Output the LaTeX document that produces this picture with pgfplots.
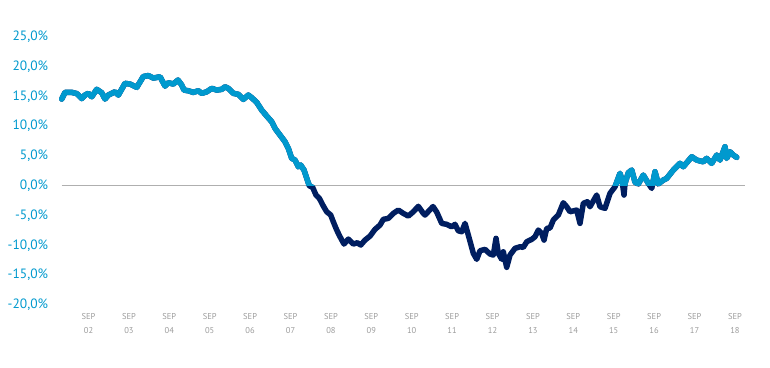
\documentclass[border=0pt]{standalone}
\usepackage{fontspec}
\setmainfont{PT Sans}
\usepackage{pgfplots}
\usepackage{pgfplotstable}
\pgfplotsset{compat=1.18}
\definecolor{lb}{RGB}{0,153,206}
\definecolor{nv}{RGB}{0,30,96}
\definecolor{tg}{RGB}{155,155,155}
\definecolor{zl}{RGB}{175,175,175}
\pgfplotstableread{
x y
2001.337 14.54
2001.418 15.66
2001.584 15.66
2001.708 15.46
2001.832 14.62
2001.913 15.21
2001.995 15.50
2002.079 14.93
2002.203 16.17
2002.327 15.60
2002.408 14.54
2002.490 15.21
2002.656 15.76
2002.738 15.21
2002.903 17.17
2003.027 17.06
2003.193 16.50
2003.356 18.31
2003.480 18.48
2003.604 18.06
2003.770 18.28
2003.894 16.72
2003.975 17.27
2004.099 17.06
2004.215 17.73
2004.307 16.89
2004.364 16.05
2004.470 15.93
2004.594 15.66
2004.718 15.93
2004.802 15.50
2004.926 15.76
2005.050 16.33
2005.173 16.05
2005.297 16.17
2005.379 16.60
2005.460 16.33
2005.584 15.50
2005.708 15.33
2005.832 14.49
2005.955 15.21
2006.040 14.76
2006.163 13.99
2006.287 12.69
2006.411 11.69
2006.535 10.73
2006.616 9.63
2006.740 8.50
2006.864 7.38
2006.946 6.27
2007.030 4.59
2007.111 4.31
2007.193 3.19
2007.252 3.47
2007.334 2.63
2007.416 0.96
2007.465 0.00
2007.550 -0.30
2007.631 -1.56
2007.713 -2.11
2007.812 -3.40
2007.896 -4.36
2007.995 -4.91
2008.059 -6.04
2008.144 -7.43
2008.225 -8.55
2008.324 -9.78
2008.431 -8.94
2008.554 -9.78
2008.653 -9.56
2008.738 -9.94
2008.844 -9.11
2008.968 -8.44
2009.092 -7.31
2009.215 -6.59
2009.297 -5.63
2009.421 -5.47
2009.545 -4.63
2009.668 -4.08
2009.792 -4.63
2009.916 -5.08
2010.040 -4.36
2010.163 -3.45
2010.287 -4.63
2010.329 -4.91
2010.527 -3.49
2010.619 -4.41
2010.743 -6.31
2010.866 -6.47
2010.990 -6.88
2011.072 -6.47
2011.153 -7.55
2011.238 -7.71
2011.319 -6.31
2011.401 -8.27
2011.525 -11.34
2011.609 -12.34
2011.691 -10.90
2011.814 -10.67
2011.938 -11.45
2012.020 -11.62
2012.087 -8.82
2012.144 -11.34
2012.228 -12.34
2012.267 -11.07
2012.351 -13.68
2012.433 -11.62
2012.557 -10.50
2012.681 -10.23
2012.762 -10.33
2012.847 -9.39
2012.970 -8.99
2013.052 -8.55
2013.134 -7.43
2013.218 -7.98
2013.275 -9.11
2013.342 -7.14
2013.423 -7.09
2013.505 -5.75
2013.629 -4.91
2013.752 -2.85
2013.837 -3.52
2013.918 -4.36
2014.084 -4.08
2014.166 -6.31
2014.248 -2.95
2014.347 -2.68
2014.413 -3.52
2014.579 -1.56
2014.661 -3.52
2014.785 -3.79
2014.908 -1.27
2015.032 -0.17
2015.156 2.08
2015.205 0.96
2015.255 -1.56
2015.280 0.40
2015.361 2.18
2015.446 2.63
2015.527 0.60
2015.609 0.30
2015.733 1.79
2015.856 0.40
2015.941 -0.44
2016.022 2.35
2016.104 0.30
2016.228 0.96
2016.312 1.24
2016.475 2.63
2016.641 3.76
2016.723 3.19
2016.931 4.86
2017.054 4.31
2017.218 4.02
2017.302 4.59
2017.426 3.76
2017.550 5.15
2017.631 4.31
2017.755 6.54
2017.797 4.59
2017.879 5.70
2017.960 5.15
2018.045 4.76
}\series
\pgfplotstableread{
x y
2001.336 0
2018.25 0
}\zeroline
\begin{document}
\begin{tikzpicture}[x=1pt,y=1pt]
\path[use as bounding box] (0,0) rectangle (770,367);
\begin{axis}[
  at={(61.7pt,62pt)}, anchor=south west,
  scale only axis, width=683.3pt, height=268.3pt,
  xmin=2001.336, xmax=2018.25, ymin=-20, ymax=25,
  clip=false,
  axis line style={draw=none},
  major tick length=0pt,
  ytick={-20,-15,-10,-5,0,5,10,15,20,25},
  yticklabels={{-20,0\%},{-15,0\%},{-10,0\%},{-5,0\%},{0,0\%},{5,0\%},{10,0\%},{15,0\%},{20,0\%},{25,0\%}},
  yticklabel style={anchor=east, inner sep=0pt, xshift=-13.4pt, text=lb, font=\fontsize{13.5}{15}\selectfont},
  xtick={2002,2003,2004,2005,2006,2007,2008,2009,2010,2011,2012,2013,2014,2015,2016,2017,2018},
  xticklabels={{SEP\\02},{SEP\\03},{SEP\\04},{SEP\\05},{SEP\\06},{SEP\\07},{SEP\\08},{SEP\\09},{SEP\\10},{SEP\\11},{SEP\\12},{SEP\\13},{SEP\\14},{SEP\\15},{SEP\\16},{SEP\\17},{SEP\\18}},
  xticklabel style={anchor=north, inner sep=0pt, yshift=-8.3pt, align=center, text=tg, font=\fontsize{8.5}{14}\selectfont},
]
\addplot[zl, line width=1.2pt, no marks] table {\zeroline};
\addplot[nv, line width=5.5pt, line join=round, line cap=round, no marks] table {\series};
\begin{scope}
\clip (axis cs:2000,0) rectangle (axis cs:2020,30);
\addplot[lb, line width=5.5pt, line join=round, line cap=round, no marks] table {\series};
\end{scope}
\end{axis}
\end{tikzpicture}
\end{document}
